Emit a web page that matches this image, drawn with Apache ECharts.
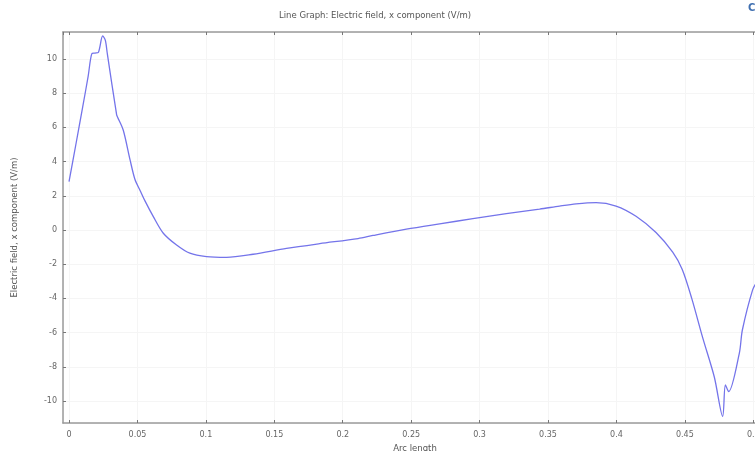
<!DOCTYPE html>
<html>
<head>
<meta charset="utf-8">
<script src="https://cdn.jsdelivr.net/npm/echarts@6/dist/echarts.min.js"></script>
<style>html,body{margin:0;padding:0;background:#fff}#c{width:755px;height:451px}</style>
</head>
<body>
<div id="c"></div>
<script>
const titleText = 'Line Graph: Electric field, x component (V/m)';
const xName = 'Arc length';
const yName = 'Electric field, x component (V/m)';
const arcLength = [0.0000,0.0050,0.0100,0.0140,0.0166,0.0190,0.0215,0.0246,0.0265,0.0280,0.0348,0.0355,0.0396,0.0446,0.0482,0.0520,0.0555,0.0616,0.0689,0.0786,0.0883,0.1005,0.1151,0.1345,0.1589,0.1832,0.2112,0.2221,0.2465,0.2708,0.2951,0.3195,0.3438,0.3584,0.3705,0.3851,0.3997,0.4143,0.4289,0.4411,0.4480,0.4550,0.4630,0.4715,0.4776,0.4796,0.4820,0.4898,0.4920,0.4995,0.5030];
const fieldX = [2.83,5.0,7.2,9.0,10.3,10.35,10.4,11.35,11.1,10.3,6.73,6.6,5.85,4.1,2.95,2.3,1.7,0.78,-0.19,-0.88,-1.36,-1.56,-1.6,-1.42,-1.08,-0.8,-0.5,-0.32,0.05,0.36,0.66,0.96,1.22,1.40,1.53,1.6,1.4,0.8,-0.15,-1.3,-2.3,-4.0,-6.3,-8.6,-10.9,-9.06,-9.45,-7.2,-5.85,-3.5,-3.0];

const chart = echarts.init(document.getElementById('c'));
const axisCol = '#9a9a9a';
const xMin = -0.0044, xMax = 0.51, yMin = -11.29, yMax = 11.58;
const font = 'DejaVu Sans';
chart.setOption({
  animation: false,
  backgroundColor: '#fff',
  title: { text: titleText, left: 274, top: 6, textStyle: { fontSize: 8.5, fontWeight: 'normal', color: '#555', fontFamily: font } },
  graphic: [{ type: 'text', left: 748, top: 3, style: { text: 'C', fill: '#3f6fb0', fontSize: 10, fontWeight: 'bold', fontFamily: font } }],
  grid: { left: 63, right: -12, top: 32, bottom: 28, outerBoundsMode: 'none', containLabel: false },
  xAxis: [{
    type: 'value', min: xMin, max: xMax, splitNumber: 10,
    name: xName, nameLocation: 'middle', nameGap: 16,
    nameTextStyle: { fontSize: 8.5, color: '#555', fontFamily: font },
    axisLine: { show: true, onZero: false, lineStyle: { color: axisCol, width: 1.5 } },
    axisTick: { inside: true, length: 3, lineStyle: { color: '#777' } },
    axisLabel: { fontSize: 8, color: '#666', margin: 8, showMinLabel: false, showMaxLabel: false, fontFamily: font },
    splitLine: { show: true, lineStyle: { color: '#f5f5f5', width: 1 } }
  }, {
    type: 'value', min: xMin, max: xMax, splitNumber: 10, position: 'top',
    axisLine: { show: true, onZero: false, lineStyle: { color: axisCol, width: 1.5 } },
    axisTick: { inside: true, length: 3, lineStyle: { color: '#777' } },
    axisLabel: { show: false }, splitLine: { show: false }
  }],
  yAxis: [{
    type: 'value', min: yMin, max: yMax, splitNumber: 11,
    name: yName, nameLocation: 'middle', nameGap: 44,
    nameTextStyle: { fontSize: 8.5, color: '#555', fontFamily: font },
    axisLine: { show: true, onZero: false, lineStyle: { color: axisCol, width: 1.5 } },
    axisTick: { inside: true, length: 3, lineStyle: { color: '#777' } },
    axisLabel: { fontSize: 8, color: '#666', margin: 6, showMinLabel: false, showMaxLabel: false, fontFamily: font },
    splitLine: { show: true, lineStyle: { color: '#f5f5f5', width: 1 } }
  }, {
    type: 'value', min: yMin, max: yMax, splitNumber: 11, position: 'right',
    axisLine: { show: true, onZero: false, lineStyle: { color: axisCol, width: 1.5 } },
    axisTick: { inside: true, length: 3 }, axisLabel: { show: false }, splitLine: { show: false }
  }],
  series: [{
    type: 'line', xAxisIndex: 0, yAxisIndex: 0,
    data: arcLength.map((x, i) => [x, fieldX[i]]),
    showSymbol: false, smooth: 0.3,
    lineStyle: { color: '#7474ea', width: 1.3 }
  }]
});
</script>
</body>
</html>
